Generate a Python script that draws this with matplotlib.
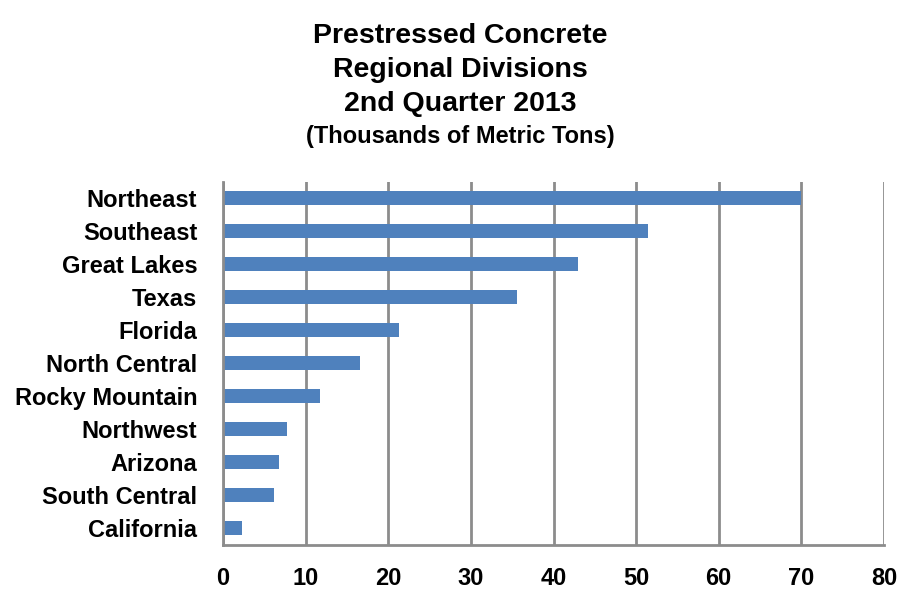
import matplotlib
matplotlib.use("Agg")
import matplotlib.pyplot as plt

regions = ["Northeast", "Southeast", "Great Lakes", "Texas", "Florida",
           "North Central", "Rocky Mountain", "Northwest", "Arizona",
           "South Central", "California"]
tons = [69.9, 51.4, 43.0, 35.6, 21.3, 16.6, 11.8, 7.8, 6.8, 6.2, 2.3]
xticks = [0, 10, 20, 30, 40, 50, 60, 70, 80]

plt.rcParams['font.family'] = ['Liberation Sans', 'DejaVu Sans']
plt.rcParams['font.weight'] = 'bold'

fig = plt.figure(figsize=(9.02, 5.92), dpi=100)
ax = fig.add_axes([223 / 902, 1 - 544.5 / 592, (884 - 223) / 902, (544.5 - 181.5) / 592])

pos = list(range(len(regions)))
ax.barh(pos, tons, height=0.42, color="#4F81BD", zorder=3)
ax.set_ylim(len(regions) - 0.5, -0.5)
ax.set_xlim(0, 80)
ax.set_xticks(xticks)
ax.set_xticklabels([str(t) for t in xticks], fontsize=17, fontweight='bold')
ax.set_yticks(pos)
ax.set_yticklabels(regions, fontsize=17, fontweight='bold')
ax.tick_params(axis='x', length=0, pad=16)
ax.tick_params(axis='y', length=0, pad=18.5)

ax.grid(axis='x', color="#8C8C8C", linewidth=2, zorder=1)
for s in ["top", "right"]:
    ax.spines[s].set_visible(False)
for s in ["left", "bottom"]:
    ax.spines[s].set_color("#8C8C8C")
    ax.spines[s].set_linewidth(2)
    ax.spines[s].set_zorder(4)

title_x = 460 / 902
for text, y, size in [("Prestressed Concrete", 43, 20.5),
                      ("Regional Divisions", 77, 20.5),
                      ("2nd Quarter 2013", 111, 20.5),
                      ("(Thousands of Metric Tons)", 143, 17)]:
    fig.text(title_x, 1 - y / 592, text, ha='center', va='baseline',
             fontsize=size, fontweight='bold')

fig.savefig("out.png", dpi=100)
